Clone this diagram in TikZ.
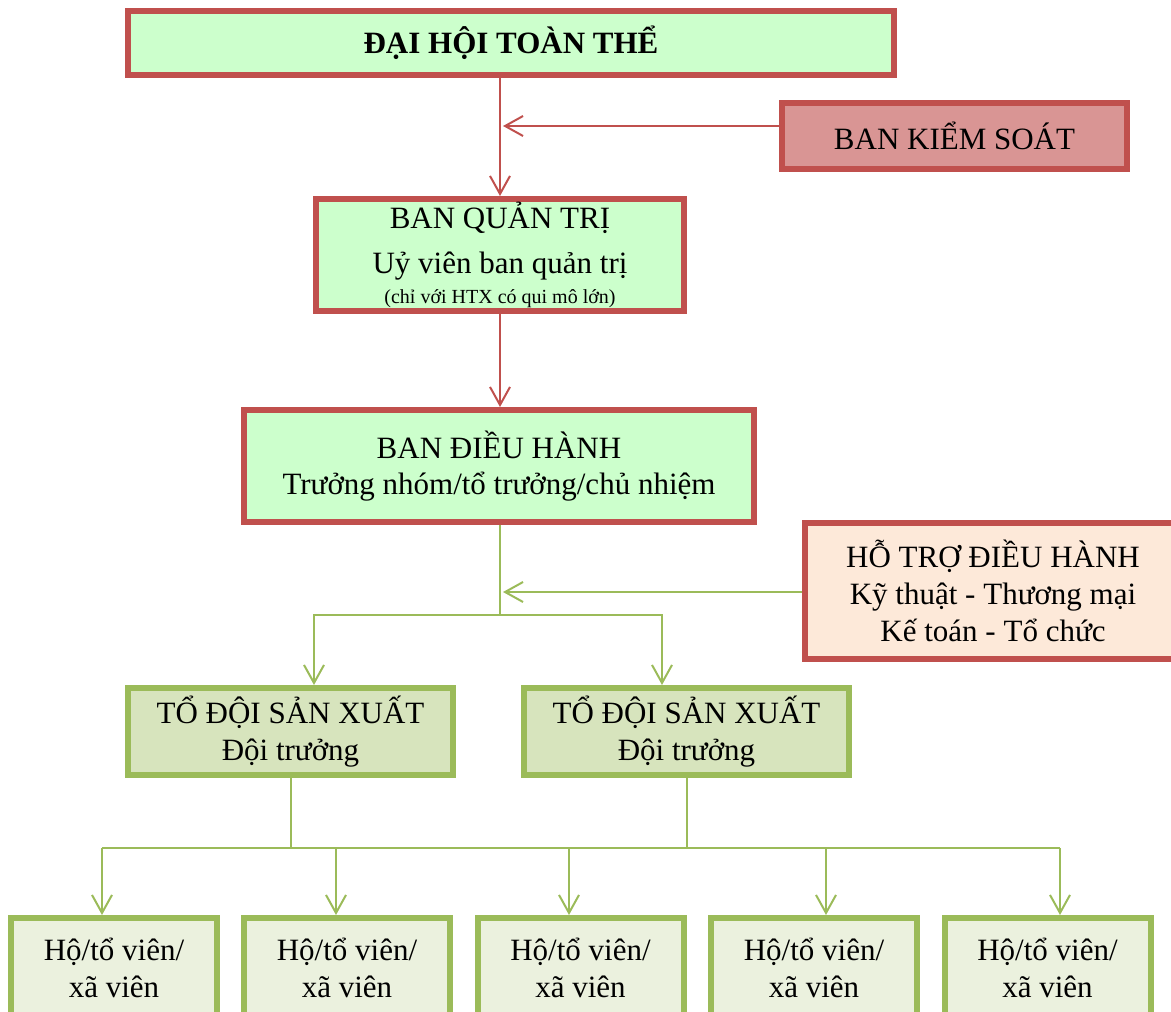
\documentclass[tikz,border=0pt]{standalone}
\usepackage{fontspec}
\setmainfont{Liberation Serif}
\usetikzlibrary{arrows.meta}
\definecolor{redline}{HTML}{C0504D}
\definecolor{greenline}{HTML}{9BBB59}
\definecolor{fillmint}{HTML}{CCFFCC}
\definecolor{fillrose}{HTML}{D99594}
\definecolor{fillpeach}{HTML}{FDE9D9}
\definecolor{fillolive}{HTML}{D7E4BD}
\definecolor{fillpale}{HTML}{EBF1DE}

\begin{document}
\begin{tikzpicture}[x=0.5pt,y=-0.5pt,
	box/.style={line width=3pt,align=center,inner sep=0pt,
		font=\fontsize{15.5}{18.4}\selectfont},
	redbox/.style={box,draw=redline},
	greenbox/.style={box,draw=greenline},
	redarr/.style={draw=redline,line width=1pt,-{Straight Barb[length=9pt,width=10pt]}},
	greenarr/.style={draw=greenline,line width=1pt,-{Straight Barb[length=9pt,width=10pt]}},
	greenline/.style={draw=greenline,line width=1pt}]
	  \useasboundingbox (0,0) rectangle (1171,1011);

	  % upper part
	  \node[redbox,fill=fillmint,minimum width=383pt,minimum height=32pt] (dhtt) at (511,43) {\bfseries ĐẠI HỘI TOÀN THỂ};
	  \node[redbox,fill=fillrose,minimum width=172.5pt,minimum height=33pt] (bks) at (954.5,136) {BAN KIỂM SOÁT};
	  \node[redbox,fill=fillmint,minimum width=184pt,minimum height=56pt] (bqt) at (500,255)
	  	{BAN QUẢN TRỊ\\[4pt] Uỷ viên ban quản trị\\[-3pt] {\fontsize{10}{12}\selectfont (chỉ với HTX có qui mô lớn)}};
	  \node[redbox,fill=fillmint,minimum width=255pt,minimum height=56pt] (bdh) at (499,466)
	  	{BAN ĐIỀU HÀNH\\ Trưởng nhóm/tổ trưởng/chủ nhiệm};
	  \node[redbox,fill=fillpeach,minimum width=188pt,minimum height=68pt] (htdh) at (993,591)
	  	{HỖ TRỢ ĐIỀU HÀNH\\ Kỹ thuật - Thương mại\\ Kế toán - Tổ chức};

	  \coordinate (ksin) at (503,126);
	  \draw[redarr] (dhtt.south -| bqt.north) -- (bqt.north);
	  \draw[redarr] (bks.west |- ksin) -- (ksin);
	  \draw[redarr] (bqt.south) -- (bqt.south |- bdh.north);

	  % production teams
	  \node[greenbox,fill=fillolive,minimum width=162.5pt,minimum height=43.5pt] (td1) at (290.5,731.5)
	  	{TỔ ĐỘI SẢN XUẤT\\ Đội trưởng};
	  \node[greenbox,fill=fillolive,minimum width=162.5pt,minimum height=43.5pt] (td2) at (686.5,731.5)
	  	{TỔ ĐỘI SẢN XUẤT\\ Đội trưởng};

	  \coordinate (j1) at (500,615);
	  \coordinate (htin) at (503,592);
	  \draw[greenline] (bdh.south -| j1) -- (j1);
	  \draw[greenarr] (htdh.west |- htin) -- (htin);
	  \draw[greenarr] (j1) -| (314,685);
	  \draw[greenarr] (j1) -| (662,685);

	  % members
	  \foreach \x [count=\i] in {114,347,580.5,814,1047.5}{
	  \node[greenbox,fill=fillpale,minimum width=103pt,minimum height=50pt] (ho\i) at (\x,968)
	  	{Hộ/tổ viên/\\ xã viên};
	  }
	  \coordinate (j2) at (102,848);
	  \coordinate (j3) at (1060,848);
	  \draw[greenline] (td1.south) -- (td1.south |- j2);
	  \draw[greenline] (td2.south) -- (td2.south |- j2);
	  \draw[greenline] (j2) -- (j3);
	  \foreach \x [count=\i] in {102,336,569,826,1060}{
	  \draw[greenarr] (\x,848) -- (\x,848 |- ho\i.north);
	  }

\end{tikzpicture}
\end{document}
